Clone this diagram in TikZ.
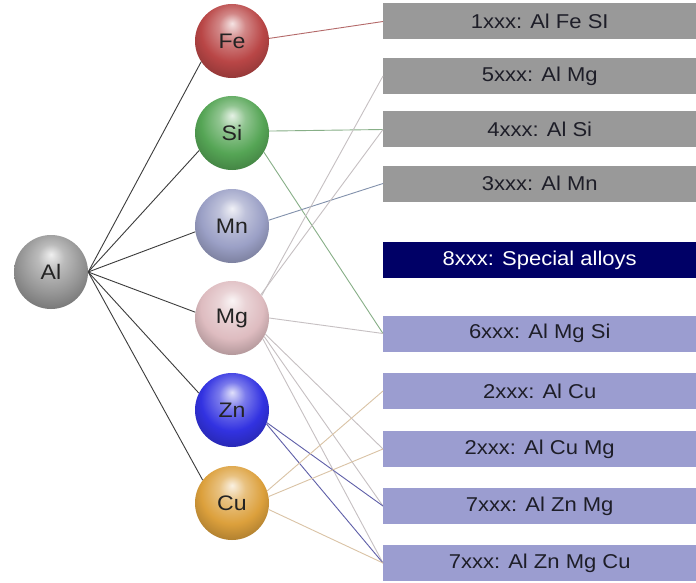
\documentclass[tikz,border=0pt]{standalone}
\usepackage{fontspec}
\setmainfont{Liberation Sans}
\newfontfamily\labfont[FakeStretch=1.1]{Liberation Sans}

% soft sphere shading: highlight at the top, tinted edge at the bottom
\makeatletter
\pgfdeclareradialshading[tikz@ball]{softball}{\pgfqpoint{0bp}{12bp}}{%
  color(0bp)=(tikz@ball!15!white);
  color(9bp)=(tikz@ball!65!white);
  color(21bp)=(tikz@ball);
  color(31bp)=(tikz@ball!78!black);
  color(40bp)=(tikz@ball!62!black);
  color(50bp)=(tikz@ball!50!black)}
\makeatother

% sphere colours
\definecolor{alcol}{RGB}{150,150,150}
\definecolor{fecol}{RGB}{185,70,70}
\definecolor{sicol}{RGB}{85,165,85}
\definecolor{mncol}{RGB}{155,160,198}
\definecolor{mgcol}{RGB}{222,188,192}
\definecolor{zncol}{RGB}{50,50,225}
\definecolor{cucol}{RGB}{220,160,60}
% box colours
\definecolor{greybox}{RGB}{153,153,153}
\definecolor{navybox}{RGB}{0,0,102}
\definecolor{lavbox}{RGB}{155,157,208}
\definecolor{boxtext}{RGB}{30,30,40}
\definecolor{labtext}{RGB}{35,35,35}
% connector colours
\definecolor{alline}{RGB}{60,60,60}
\definecolor{feline}{RGB}{180,105,105}
\definecolor{siline}{RGB}{135,175,135}
\definecolor{mnline}{RGB}{130,145,172}
\definecolor{mgline}{RGB}{198,192,194}
\definecolor{znline}{RGB}{95,95,168}
\definecolor{culine}{RGB}{218,195,165}

\begin{document}
\begin{tikzpicture}[x=1pt,y=-1pt,
  elem/.style={circle, minimum size=74pt, inner sep=0pt, ball color=#1, shading=softball,
    font=\labfont\fontsize{21}{24}\selectfont, text=labtext},
  alloy/.style={rectangle, anchor=west, minimum width=313pt, minimum height=36pt,
    inner sep=0pt, fill=#1, font=\labfont\fontsize{20}{24}\selectfont, text=boxtext},
  link/.style={line width=0.9pt, draw=#1}]

\fill[white] (0,0) rectangle (696,583);
\useasboundingbox (0,0) rectangle (696,583);

% element spheres
\node[elem=alcol] (al) at (51,272) {Al};
\node[elem=fecol] (fe) at (232,41) {Fe};
\node[elem=sicol] (si) at (232,133) {Si};
\node[elem=mncol] (mn) at (232,226) {Mn};
\node[elem=mgcol] (mg) at (232,318) {Mg};
\node[elem=zncol] (zn) at (232,410) {Zn};
\node[elem=cucol] (cu) at (232,503) {Cu};

% alloy series boxes
\node[alloy=greybox] (b1) at (383,21.5) {1xxx: Al Fe SI};
\node[alloy=greybox] (b5) at (383,76) {5xxx: Al Mg};
\node[alloy=greybox] (b4) at (383,129.5) {4xxx: Al Si};
\node[alloy=greybox] (b3) at (383,183.5) {3xxx: Al Mn};
\node[alloy=navybox, text=white] (b8) at (383,260) {8xxx: Special alloys};
\node[alloy=lavbox] (b6) at (383,333.5) {6xxx: Al Mg Si};
\node[alloy=lavbox] (b2a) at (383,391) {2xxx: Al Cu};
\node[alloy=lavbox] (b2b) at (383,449) {2xxx: Al Cu Mg};
\node[alloy=lavbox] (b7a) at (383,506) {7xxx: Al Zn Mg};
\node[alloy=lavbox] (b7b) at (383,563) {7xxx: Al Zn Mg Cu};

% aluminium to the alloying elements
\draw[link=alline] (al.east) -- (fe.214);
\draw[link=alline] (al.east) -- (si.208);
\draw[link=alline] (al.east) -- (mn.189);
\draw[link=alline] (al.east) -- (mg.171);
\draw[link=alline] (al.east) -- (zn.153);
\draw[link=alline] (al.east) -- (cu.142);

% alloying elements to the series
\draw[link=feline] (fe.4) -- (b1.west);
\draw[link=siline] (si.3) -- (b4.west);
\draw[link=siline] (si.-31) -- (b6.west);
\draw[link=mnline] (mn.9) -- (b3.west);
\draw[link=mgline] (mg.37) -- (b5.west);
\draw[link=mgline] (mg.39) -- (b4.west);
\draw[link=mgline] (mg.east) -- (b6.west);
\draw[link=mgline] (mg.-26) -- (b2b.west);
\draw[link=mgline] (mg.-30) -- (b7a.west);
\draw[link=mgline] (mg.-34) -- (b7b.west);
\draw[link=znline] (zn.-20) -- (b7a.west);
\draw[link=znline] (zn.-22) -- (b7b.west);
\draw[link=culine] (cu.19) -- (b2a.west);
\draw[link=culine] (cu.10) -- (b2b.west);
\draw[link=culine] (cu.-10) -- (b7b.west);
\end{tikzpicture}
\end{document}
